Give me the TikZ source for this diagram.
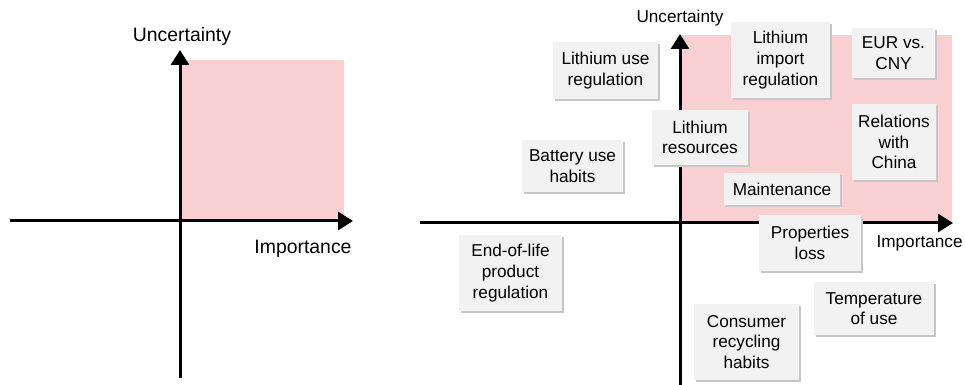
\documentclass[tikz,border=0pt]{standalone}
\usepackage{fontspec}
\setmainfont{Liberation Sans}
\usetikzlibrary{arrows.meta,shadows}

\definecolor{quadpink}{RGB}{249,208,210}
\definecolor{boxgray}{RGB}{242,242,242}

\tikzset{
  axis/.style={line width=1.5pt, -{Triangle[width=9pt,length=7.5pt]}},
  factor/.style={fill=boxgray, align=center, inner sep=1pt,
    font=\fontsize{8.6}{10.3}\selectfont,
    copy shadow={shadow xshift=1pt, shadow yshift=-1pt, fill=black!22, draw=none}},
  biglabel/.style={font=\fontsize{9.7}{11}\selectfont},
  smalllabel/.style={font=\fontsize{8.6}{10}\selectfont}
}

\begin{document}
\begin{tikzpicture}[x=0.5pt,y=-0.5pt]
\useasboundingbox (0,0) rectangle (965,385);

% left: empty matrix
\fill[quadpink] (180,60) rectangle (344,221);
\coordinate (lw) at (10,221);
\coordinate (le) at (353,221);
\coordinate (ls) at (180,378);
\coordinate (ln) at (180,50);
\draw[axis] (lw) -- (le);
\draw[axis] (ls) -- (ln);
\node[biglabel] (lunc) at (182,36) {Uncertainty};
\node[biglabel] (limp) at (303,249) {Importance};

% right: matrix with factors
\fill[quadpink] (680,35) rectangle (952,223);
\coordinate (rw) at (420,223);
\coordinate (re) at (953,223);
\coordinate (rs) at (680,386);
\coordinate (rn) at (680,34);
\draw[axis] (rw) -- (re);
\draw[axis] (rs) -- (rn);
\node[smalllabel] (runc) at (680,18) {Uncertainty};
\node[smalllabel, anchor=east, inner sep=0pt] (rimp) at (963,243) {Importance};

\node[factor, minimum width=52.5pt, minimum height=28.5pt] (luse) at (605.5,70.5) {Lithium use\\regulation};
\node[factor, minimum width=49.5pt, minimum height=38pt] (limport) at (780.5,60) {Lithium\\import\\regulation};
\node[factor, minimum width=41.5pt, minimum height=25pt] (eur) at (893.5,53) {EUR vs.\\CNY};
\node[factor, minimum width=48pt, minimum height=27.5pt] (lres) at (700,137.5) {Lithium\\resources};
\node[factor, minimum width=42pt, minimum height=38pt] (china) at (894,142) {Relations\\with\\China};
\node[factor, minimum width=50.5pt, minimum height=26pt] (battery) at (572.5,166) {Battery use\\habits};
\node[factor, minimum width=58pt, minimum height=16pt] (maint) at (782,189) {Maintenance};
\node[factor, minimum width=51pt, minimum height=28pt] (props) at (810,243) {Properties\\loss};
\node[factor, minimum width=51.5pt, minimum height=38pt] (eol) at (510.5,273) {End-of-life\\product\\regulation};
\node[factor, minimum width=60pt, minimum height=26.5pt] (temp) at (874,308.5) {Temperature\\of use};
\node[factor, minimum width=52.5pt, minimum height=38pt] (recycl) at (746.5,342) {Consumer\\recycling\\habits};
\end{tikzpicture}
\end{document}
